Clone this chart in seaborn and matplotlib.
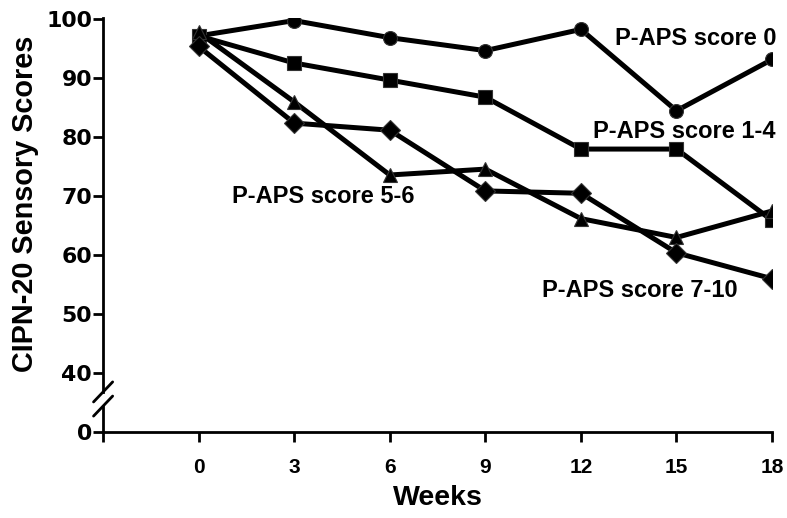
import pandas as pd
import matplotlib
matplotlib.use('Agg')
import matplotlib.pyplot as plt
import seaborn as sns

weeks = [0, 3, 6, 9, 12, 15, 18]
score_0 = [97.2, 99.8, 96.9, 94.7, 98.3, 84.5, 93.2]
score_1_4 = [97.2, 92.6, 89.7, 86.8, 78.0, 78.0, 65.9]
score_5_6 = [97.8, 86.0, 73.6, 74.6, 66.2, 63.0, 67.5]
score_7_10 = [95.4, 82.4, 81.2, 70.9, 70.5, 60.4, 56.0]
group_names = ['P-APS score 0', 'P-APS score 1-4', 'P-APS score 5-6', 'P-APS score 7-10']
y_ticks = [40, 50, 60, 70, 80, 90, 100]

# the axis is broken: real 0 is drawn one step below 40
BREAK_POS = 30

sns.set_style('ticks')
plt.rcParams['font.family'] = ['Liberation Sans', 'DejaVu Sans']
plt.rcParams.update({'text.color': 'black', 'axes.labelcolor': 'black',
                     'xtick.color': 'black', 'ytick.color': 'black',
                     'axes.edgecolor': 'black'})

frames = []
for name, vals in zip(group_names, [score_0, score_1_4, score_5_6, score_7_10]):
    frames.append(pd.DataFrame({'week': weeks, 'score': vals, 'group': name}))
df = pd.concat(frames, ignore_index=True)

fig = plt.figure(figsize=(7.87, 5.18), dpi=100)
ax = fig.add_axes([0.131, 0.166, 0.850, 0.800])

sns.lineplot(data=df, x='week', y='score', hue='group', style='group',
             palette=['black'] * 4, markers=['o', 's', '^', 'D'], dashes=False,
             linewidth=3.6, markersize=10, markeredgecolor='#333333',
             markeredgewidth=0.8, legend=False, ax=ax)

ax.set_xlim(-3, 18)
ax.set_ylim(BREAK_POS, 100.3)
ax.set_xticks([-3] + weeks)
ax.set_xticklabels([''] + [str(w) for w in weeks])
ax.set_yticks([BREAK_POS] + y_ticks)
ax.set_yticklabels(['0'] + [str(t) for t in y_ticks])

ax.tick_params(axis='both', direction='out', length=7, width=2)
ax.tick_params(axis='x', pad=12, labelsize=15)
ax.tick_params(axis='y', pad=1, labelsize=15.8)
for lbl in ax.get_xticklabels():
    lbl.set_fontweight('bold')
for lbl in ax.get_yticklabels():
    lbl.set_fontweight('bold')
    lbl.set_family('DejaVu Sans')

sns.despine(ax=ax)
ax.spines['bottom'].set_linewidth(2)
ax.spines['left'].set_linewidth(2)
ax.spines['left'].set_bounds(36.8, 100.3)
# lower piece of the broken axis and the two slashes
ax.plot([-3, -3], [BREAK_POS, 34.4], color='black', lw=2, clip_on=False)
ax.plot([-3.3, -2.7], [35.1, 38.5], color='black', lw=2, clip_on=False)
ax.plot([-3.3, -2.7], [32.7, 36.1], color='black', lw=2, clip_on=False)

ax.set_xlabel('Weeks', fontsize=20.5, fontweight='bold')
ax.set_ylabel('CIPN-20 Sensory Scores', fontsize=20.8, fontweight='bold')
ax.xaxis.set_label_coords(0.5, -0.128)
ax.yaxis.set_label_coords(-0.096, 0.551)

lab_kw = dict(fontsize=17, fontweight='bold', ha='center', va='baseline')
ax.text(15.6, 95.6, group_names[0], **lab_kw)
ax.text(15.23, 79.8, group_names[1], **lab_kw)
ax.text(3.91, 68.8, group_names[2], **lab_kw)
ax.text(13.84, 52.9, group_names[3], **lab_kw)

plt.savefig('out.png', dpi=100)
plt.close()
